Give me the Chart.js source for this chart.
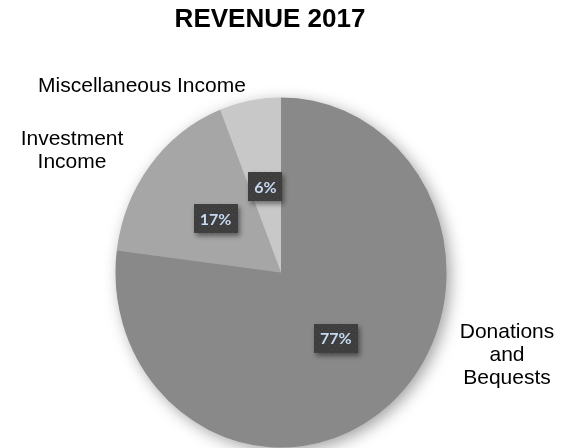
<!DOCTYPE html>
<html>
<head>
<meta charset="utf-8">
<script src="https://cdn.jsdelivr.net/npm/chart.js@4.4.1/dist/chart.umd.min.js"></script>
<style>
  body { margin: 0; background: #fff; }
  #wrap { width: 570px; height: 448px; }
</style>
</head>
<body>
<div id="wrap"><canvas id="revenueChart" width="570" height="448"></canvas></div>
<script>
// data
var categories = ['Donations and Bequests', 'Investment Income', 'Miscellaneous Income'];
var revenueShare = [77, 17, 6];
var sliceColors = ['#898989', '#a6a6a6', '#c8c8c8'];

// outside category labels (lines, centre x, first baseline)
var outsideLabels = [
    { lines: ['Donations', 'and', 'Bequests'], x: 507, y: 338 },
    { lines: ['Investment', 'Income'], x: 72, y: 145 },
    { lines: ['Miscellaneous Income'], x: 142, y: 92 }
];

var yStretch = 175 / 165.5; // the pie in the picture is a little taller than wide

// dotted dark fill for the percentage boxes
var patCanvas = document.createElement('canvas');
patCanvas.width = 6; patCanvas.height = 6;
var pctx = patCanvas.getContext('2d');
pctx.fillStyle = '#3e3e3e';
pctx.fillRect(0, 0, 6, 6);
pctx.fillStyle = '#4b4b4b';
pctx.fillRect(1, 1, 1, 1);
pctx.fillRect(4, 4, 1, 1);

function pieCentre(chart) {
    var arc = chart.getDatasetMeta(0).data[0];
    return { x: arc.x, y: arc.y, r: arc.outerRadius };
}

var ellipsePlugin = {
    id: 'ellipse',
    beforeDatasetsDraw: function(chart) {
        var ctx = chart.ctx;
        var c = pieCentre(chart);
        ctx.save();
        ctx.translate(c.x, c.y);
        ctx.scale(1, yStretch);
        ctx.translate(-c.x, -c.y);
        // soft shadow under the whole pie
        ctx.save();
        ctx.shadowColor = 'rgba(0,0,0,0.38)';
        ctx.shadowBlur = 16;
        ctx.shadowOffsetX = 4;
        ctx.shadowOffsetY = 4;
        ctx.fillStyle = '#999';
        ctx.beginPath();
        ctx.arc(c.x, c.y, c.r - 0.5, 0, Math.PI * 2);
        ctx.fill();
        ctx.restore();
    },
    afterDatasetsDraw: function(chart) {
        chart.ctx.restore();
    }
};

var labelPlugin = {
    id: 'labels',
    afterDraw: function(chart) {
        var ctx = chart.ctx;
        var c = pieCentre(chart);
        var arcs = chart.getDatasetMeta(0).data;
        var total = revenueShare.reduce(function(a, b) { return a + b; }, 0);

        // title
        ctx.save();
        ctx.fillStyle = '#000';
        ctx.textAlign = 'center';
        ctx.textBaseline = 'alphabetic';
        ctx.font = 'bold 26px "Liberation Sans", Arial, sans-serif';
        ctx.fillText('REVENUE 2017', 270, 27);

        // category names
        ctx.font = '21px "Liberation Sans", Arial, sans-serif';
        outsideLabels.forEach(function(l) {
            l.lines.forEach(function(line, i) {
                ctx.fillText(line, l.x, l.y + i * 23);
            });
        });

        // percentage boxes
        ctx.font = 'bold 16px Lato, "Noto Sans", sans-serif';
        ctx.textBaseline = 'middle';
        arcs.forEach(function(arc, i) {
            var mid = (arc.startAngle + arc.endAngle) / 2;
            var x = c.x + Math.cos(mid) * c.r * 0.5;
            var y = c.y + Math.sin(mid) * c.r * 0.5 * yStretch;
            var txt = Math.round(revenueShare[i] / total * 100) + '%';
            var w = ctx.measureText(txt).width + 12;
            var h = 29;
            ctx.save();
            ctx.shadowColor = 'rgba(0,0,0,0.45)';
            ctx.shadowBlur = 5;
            ctx.shadowOffsetX = 2;
            ctx.shadowOffsetY = 3;
            ctx.fillStyle = ctx.createPattern(patCanvas, 'repeat');
            ctx.fillRect(Math.round(x - w / 2), Math.round(y - h / 2), Math.round(w), h);
            ctx.restore();
            ctx.fillStyle = '#c6d9f1';
            ctx.fillText(txt, x, y + 1);
        });
        ctx.restore();
    }
};

var ctx = document.getElementById('revenueChart');
var chart = new Chart(ctx, {
    type: 'pie',
    data: {
        labels: categories,
        datasets: [{
            data: revenueShare,
            backgroundColor: sliceColors,
            borderWidth: 0,
            hoverOffset: 0
        }]
    },
    options: {
        responsive: false,
        animation: false,
        events: [],
        layout: {
            padding: { left: 115.5, right: 123.5, top: 107, bottom: 10 }
        },
        plugins: {
            legend: { display: false },
            tooltip: { enabled: false },
            title: { display: false }
        }
    },
    plugins: [ellipsePlugin, labelPlugin]
});
</script>
</body>
</html>
